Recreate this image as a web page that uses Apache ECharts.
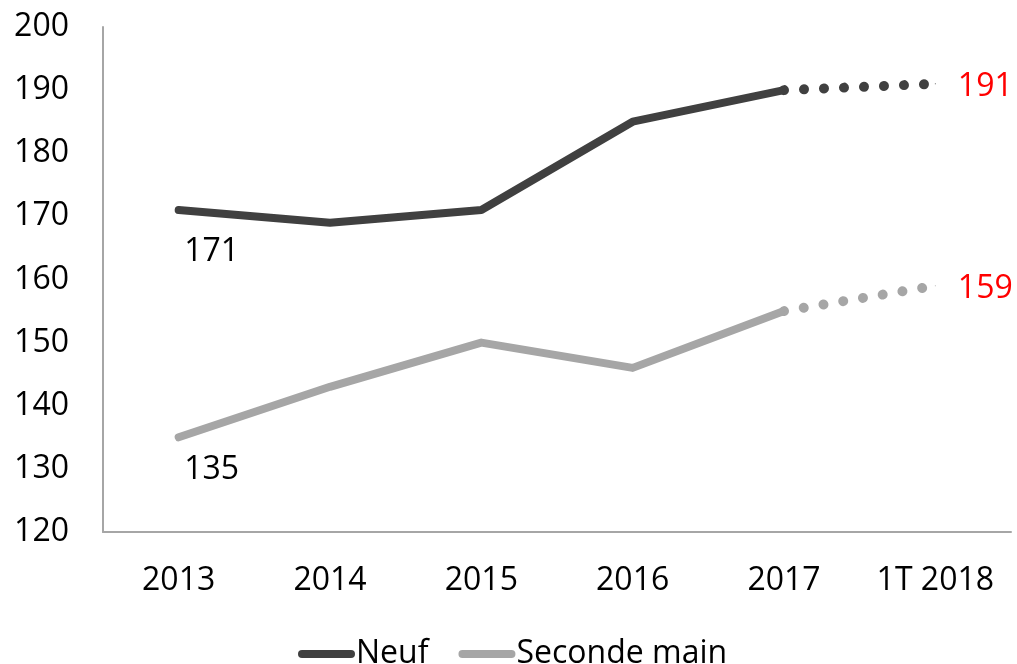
<!DOCTYPE html>
<html>
<head>
<meta charset="utf-8">
<script src="https://cdn.jsdelivr.net/npm/echarts@6/dist/echarts.min.js"></script>
<style>html,body{margin:0;padding:0;background:#fff}#c{width:1017px;height:664px}</style>
</head>
<body>
<div id="c"></div>
<script>
const categories = ['2013', '2014', '2015', '2016', '2017', '1T 2018'];
const neuf = [171, 169, 171, 185, 190, 191];
const seconde = [135, 143, 150, 146, 155, 159];
const yTicks = [120, 130, 140, 150, 160, 170, 180, 190, 200];
const solidCount = 5; // points drawn with a solid line (2013..2017)

const FONT = 'Open Sans';
const DARK = '#404040';
const LIGHT = '#a6a6a6';

function solidPart(arr, dist) {
  return arr.map((v, i) => {
    if (i >= solidCount) return null;
    if (i === 0) {
      return { value: v, label: { show: true, position: 'bottom', distance: dist, offset: [33, 0], color: '#000', fontSize: 32, fontFamily: FONT } };
    }
    return v;
  });
}
function dottedPart(arr) {
  return arr.map((v, i) => {
    if (i < solidCount - 1) return null;
    if (i === arr.length - 1) {
      return { value: v, label: { show: true, position: 'right', distance: 22, offset: [0, 3], color: '#ff0000', fontSize: 32, fontFamily: FONT } };
    }
    return v;
  });
}

const legendIcon = 'path://M4,0 H53 A4,4 0 0 1 53,8 H4 A4,4 0 0 1 4,0 Z';

const chart = echarts.init(document.getElementById('c'), null, { renderer: 'canvas' });
chart.setOption({
  animation: false,
  backgroundColor: '#fff',
  grid: { left: 103, right: 6, top: 27, bottom: 132, containLabel: false },
  legend: {
    data: [
      { name: 'Neuf', icon: legendIcon, itemStyle: { color: DARK } },
      { name: 'Seconde main', icon: legendIcon, itemStyle: { color: LIGHT } }
    ],
    left: 293,
    top: 633,
    itemWidth: 57,
    itemHeight: 8,
    itemGap: 30,
    textStyle: { fontFamily: FONT, fontSize: 32, color: '#000', padding: [0, 0, 0, -4] }
  },
  xAxis: {
    type: 'category',
    data: categories,
    boundaryGap: true,
    axisLine: { show: true, lineStyle: { color: '#a6a6a6', width: 2 } },
    axisTick: { show: false },
    axisLabel: { color: '#000', fontFamily: FONT, fontSize: 32, margin: 33, interval: 0 },
    splitLine: { show: false }
  },
  yAxis: {
    type: 'value',
    min: yTicks[0],
    max: yTicks[yTicks.length - 1],
    interval: 10,
    axisLine: { show: true, lineStyle: { color: '#a6a6a6', width: 2 } },
    axisTick: { show: false },
    axisLabel: { color: '#000', fontFamily: FONT, fontSize: 32, margin: 34 },
    splitLine: { show: false }
  },
  series: [
    {
      name: 'Neuf', type: 'line', data: solidPart(neuf, 25),
      symbol: 'circle', symbolSize: 1, showSymbol: true,
      itemStyle: { color: DARK },
      lineStyle: { color: DARK, width: 8, cap: 'round', join: 'round' },
      z: 3
    },
    {
      name: 'Neuf (1T)', type: 'line', data: dottedPart(neuf),
      symbol: 'circle', symbolSize: 1, showSymbol: true,
      itemStyle: { color: DARK },
      lineStyle: { color: DARK, width: 10, type: [0.01, 20], cap: 'round' },
      z: 2
    },
    {
      name: 'Seconde main', type: 'line', data: solidPart(seconde, 16),
      symbol: 'circle', symbolSize: 1, showSymbol: true,
      itemStyle: { color: LIGHT },
      lineStyle: { color: LIGHT, width: 8, cap: 'round', join: 'round' },
      z: 3
    },
    {
      name: 'Seconde main (1T)', type: 'line', data: dottedPart(seconde),
      symbol: 'circle', symbolSize: 1, showSymbol: true,
      itemStyle: { color: LIGHT },
      lineStyle: { color: LIGHT, width: 10, type: [0.01, 20], cap: 'round' },
      z: 2
    }
  ]
});
</script>
</body>
</html>
